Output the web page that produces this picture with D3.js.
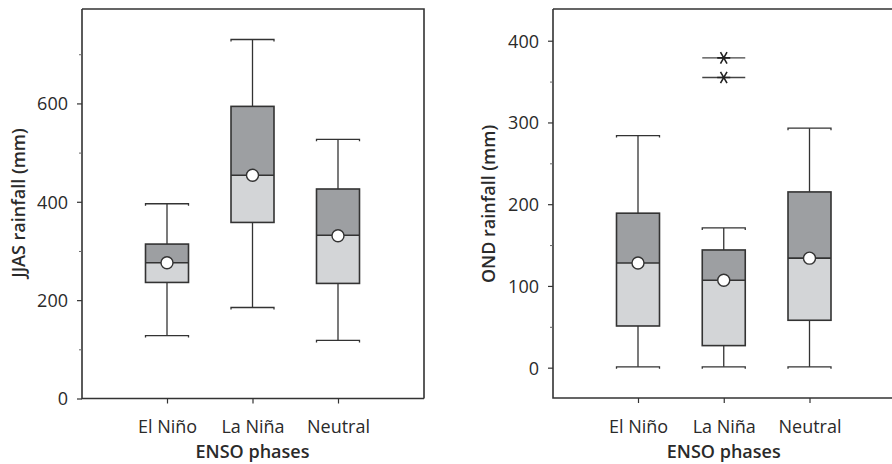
<!DOCTYPE html>
<html><head><meta charset="utf-8">
<script src="https://cdn.jsdelivr.net/npm/d3@7"></script>
<style>body{margin:0;background:#fff}svg{display:block}text{font-family:"Open Sans",sans-serif;fill:#2a2a2a}</style>
</head><body>
<script>
const categories = ["El Niño", "La Niña", "Neutral"];
// JJAS panel
const jjasMin    = [128, 185, 118];
const jjasQ1     = [236, 358, 234];
const jjasMedian = [276, 454, 332];
const jjasQ3     = [314, 594, 426];
const jjasMax    = [396, 730, 527];
const jjasMean   = [276, 454, 331];
const jjasTicks  = [0, 200, 400, 600];
const jjasMinor  = [100, 300, 500, 700];
// OND panel
const ondMin    = [1, 1, 1];
const ondQ1     = [51, 27, 58];
const ondMedian = [128, 107, 134];
const ondQ3     = [189, 144, 215];
const ondMax    = [284, 171, 293];
const ondMean   = [128, 107, 134];
const ondOutlierCat = ["La Niña", "La Niña"];
const ondOutlierVal = [379, 355];
const ondTicks  = [0, 100, 200, 300, 400];
const ondMinor  = [50, 150, 250, 350];

const W = 892, H = 464;
const svg = d3.select("body").append("svg").attr("width", W).attr("height", H);
const STROKE = "#333";
const FS = "18px";

function panel(o) {
  const g = svg.append("g");
  const y = d3.scaleLinear().domain(o.yDomain).range([o.bottom, o.top]);
  const x = d3.scalePoint().domain(categories).range(o.xRange);
  const bw = 43;
  // frame
  g.append("path")
    .attr("d", `M${o.left},${o.top}H${o.right}` + (o.rightBorder ? `V${o.bottom}` : "") + `M${o.left},${o.top}V${o.bottom}H${o.rightBorder ? o.right : W}`)
    .attr("fill", "none").attr("stroke", STROKE).attr("stroke-width", 1.6);
  // y axis
  const ya = g.append("g").attr("transform", `translate(${o.left},0)`)
    .call(d3.axisLeft(y).tickValues(o.ticks).tickSize(5).tickPadding(9));
  ya.select(".domain").remove();
  ya.selectAll("line").attr("stroke", STROKE).attr("stroke-width", 1.2);
  ya.selectAll("text").style("font-size", FS).attr("fill", "#2a2a2a").attr("dy", "0.36em");
  const ym = g.append("g").attr("transform", `translate(${o.left},0)`)
    .call(d3.axisLeft(y).tickValues(o.minor).tickSize(3).tickFormat(""));
  ym.select(".domain").remove();
  ym.selectAll("line").attr("stroke", "#666").attr("stroke-width", 1);
  // x axis
  const xa = g.append("g").attr("transform", `translate(0,${o.bottom})`)
    .call(d3.axisBottom(x).tickSize(5));
  xa.select(".domain").remove();
  xa.selectAll("line").attr("stroke", STROKE).attr("stroke-width", 1.2);
  xa.selectAll("text").style("font-size", FS).attr("fill", "#2a2a2a")
    .attr("y", 433 - o.bottom).attr("dy", "0");
  // labels
  g.append("text").attr("x", (x(categories[0]) + x(categories[2])) / 2).attr("y", 458)
    .attr("text-anchor", "middle").style("font-size", FS).style("font-weight", "600").text("ENSO phases");
  g.append("text").attr("transform", `translate(${o.ylabX},${o.ylabY}) rotate(-90)`)
    .attr("text-anchor", "middle").style("font-size", FS).style("font-weight", "600").text(o.ylabel);
  // boxes
  categories.forEach((c, i) => {
    const cx = x(c);
    const bg = g.append("g");
    bg.append("line").attr("x1", cx).attr("x2", cx).attr("y1", y(o.max[i])).attr("y2", y(o.q3[i])).attr("stroke", STROKE).attr("stroke-width", 1.3);
    bg.append("line").attr("x1", cx).attr("x2", cx).attr("y1", y(o.q1[i])).attr("y2", y(o.min[i])).attr("stroke", STROKE).attr("stroke-width", 1.3);
    [o.max[i], o.min[i]].forEach(v => {
      bg.append("path").attr("d", `M${cx - bw / 2},${y(v) + 2}V${y(v)}H${cx + bw / 2}V${y(v) + 2}`)
        .attr("fill", "none").attr("stroke", STROKE).attr("stroke-width", 1.3);
    });
    bg.append("rect").attr("x", cx - bw / 2).attr("width", bw).attr("y", y(o.q3[i])).attr("height", y(o.med[i]) - y(o.q3[i]))
      .attr("fill", "#9d9fa2");
    bg.append("rect").attr("x", cx - bw / 2).attr("width", bw).attr("y", y(o.med[i])).attr("height", y(o.q1[i]) - y(o.med[i]))
      .attr("fill", "#d3d5d7");
    bg.append("rect").attr("x", cx - bw / 2).attr("width", bw).attr("y", y(o.q3[i])).attr("height", y(o.q1[i]) - y(o.q3[i]))
      .attr("fill", "none").attr("stroke", STROKE).attr("stroke-width", 1.6);
    bg.append("line").attr("x1", cx - bw / 2).attr("x2", cx + bw / 2).attr("y1", y(o.med[i])).attr("y2", y(o.med[i])).attr("stroke", STROKE).attr("stroke-width", 1.6);
    bg.append("circle").attr("cx", cx).attr("cy", y(o.mean[i])).attr("r", 6).attr("fill", "#fff").attr("stroke", STROKE).attr("stroke-width", 1.4);
  });
  if (o.outCat) {
    o.outCat.forEach((c, j) => {
      const cx = x(c), cy = y(o.outVal[j]);
      g.append("line").attr("x1", cx - bw / 2).attr("x2", cx + bw / 2).attr("y1", cy).attr("y2", cy).attr("stroke", "#444").attr("stroke-width", 1.4);
      g.append("path").attr("transform", `translate(${cx},${cy}) rotate(90)`).attr("d", d3.symbol(d3.symbolAsterisk, 120)())
        .attr("fill", "none").attr("stroke", "#222").attr("stroke-width", 1.6);
    });
  }
}

panel({ left: 82, right: 424, top: 9, bottom: 398.5, rightBorder: true, xRange: [167, 338],
  yDomain: [0, 792], ticks: jjasTicks, minor: jjasMinor, ylabX: 25, ylabY: 203, ylabel: "JJAS rainfall (mm)",
  min: jjasMin, q1: jjasQ1, med: jjasMedian, q3: jjasQ3, max: jjasMax, mean: jjasMean });
panel({ left: 553, right: 892, top: 9, bottom: 398, rightBorder: false, xRange: [638, 809.5],
  yDomain: [-37.1, 438.8], ticks: ondTicks, minor: ondMinor, ylabX: 495, ylabY: 204, ylabel: "OND rainfall (mm)",
  min: ondMin, q1: ondQ1, med: ondMedian, q3: ondQ3, max: ondMax, mean: ondMean,
  outCat: ondOutlierCat, outVal: ondOutlierVal });
</script>
</body></html>
